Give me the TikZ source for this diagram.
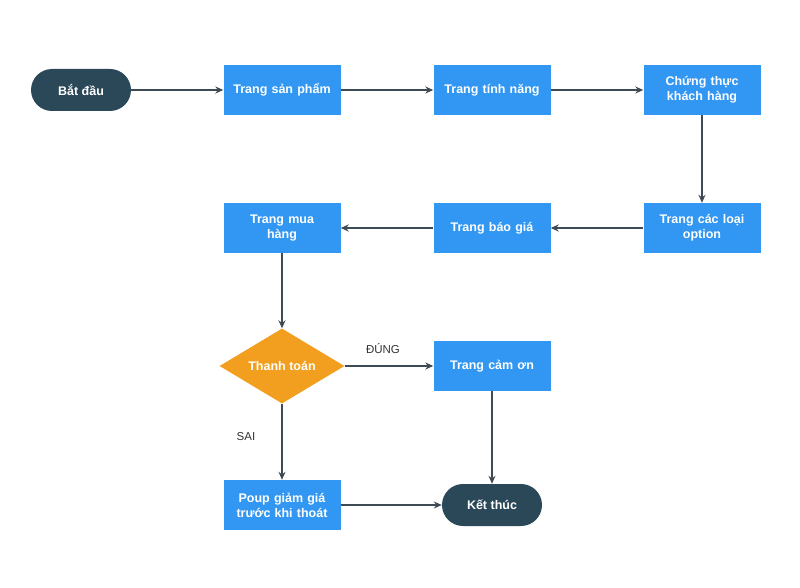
\documentclass[tikz,border=0pt]{standalone}
\usepackage{fontspec}
\setmainfont{Liberation Sans}
\usetikzlibrary{shapes.geometric,arrows.meta}
\definecolor{boxblue}{HTML}{3197F2}
\definecolor{pilldark}{HTML}{2A4858}
\definecolor{diaorange}{HTML}{F29F1F}
\definecolor{linegray}{HTML}{3E4A54}
\tikzset{
  pagebox/.style={rectangle, fill=boxblue, minimum width=117pt, minimum height=50pt, text width=105pt, align=center, text=white, font=\bfseries\fontsize{12.5}{15}\selectfont, inner sep=0pt},
  pill/.style={rectangle, rounded corners=21pt, fill=pilldark, minimum width=100pt, minimum height=42pt, text=white, font=\bfseries\fontsize{12.5}{15}\selectfont, inner sep=0pt},
  decision/.style={diamond, fill=diaorange, minimum width=125pt, minimum height=75pt, aspect=1.667, inner sep=0pt, text=white, font=\bfseries\fontsize{12.5}{15}\selectfont},
  conn/.style={draw=linegray, line width=1.3pt, -{Stealth[length=8pt,width=7pt]}},
  edgelabel/.style={text=black!80, font=\fontsize{11.5}{14}\selectfont}
}
\begin{document}
\begin{tikzpicture}[x=1pt,y=-1pt]
\useasboundingbox (0,0) rectangle (800,588);
\node[pill] (start) at (81,90) {Bắt đầu};
\node[pagebox] (p1) at (282,90) {Trang sản phẩm};
\node[pagebox] (p2) at (492,90) {Trang tính năng};
\node[pagebox] (p3) at (702,90) {Chứng thực\\khách hàng};
\node[pagebox] (p4) at (702,228) {Trang các loại\\option};
\node[pagebox] (p5) at (492,228) {Trang báo giá};
\node[pagebox] (p6) at (282,228) {Trang mua\\hàng};
\node[decision] (pay) at (282,366) {Thanh toán};
\node[pagebox] (thanks) at (492,366) {Trang cảm ơn};
\node[pagebox] (poup) at (282,505) {Poup giảm giá\\trước khi thoát};
\node[pill] (end) at (492,505) {Kết thúc};
\node[edgelabel] (yes) at (383,349) {ĐÚNG};
\node[edgelabel] (no) at (246,437) {SAI};
\draw[conn] (start) -- (p1);
\draw[conn] (p1) -- (p2);
\draw[conn] (p2) -- (p3);
\draw[conn] (p3) -- (p4);
\draw[conn] (p4) -- (p5);
\draw[conn] (p5) -- (p6);
\draw[conn] (p6) -- (pay);
\draw[conn] (pay) -- (thanks);
\draw[conn] (pay) -- (poup);
\draw[conn] (thanks) -- (end);
\draw[conn] (poup) -- (end);
\end{tikzpicture}
\end{document}
